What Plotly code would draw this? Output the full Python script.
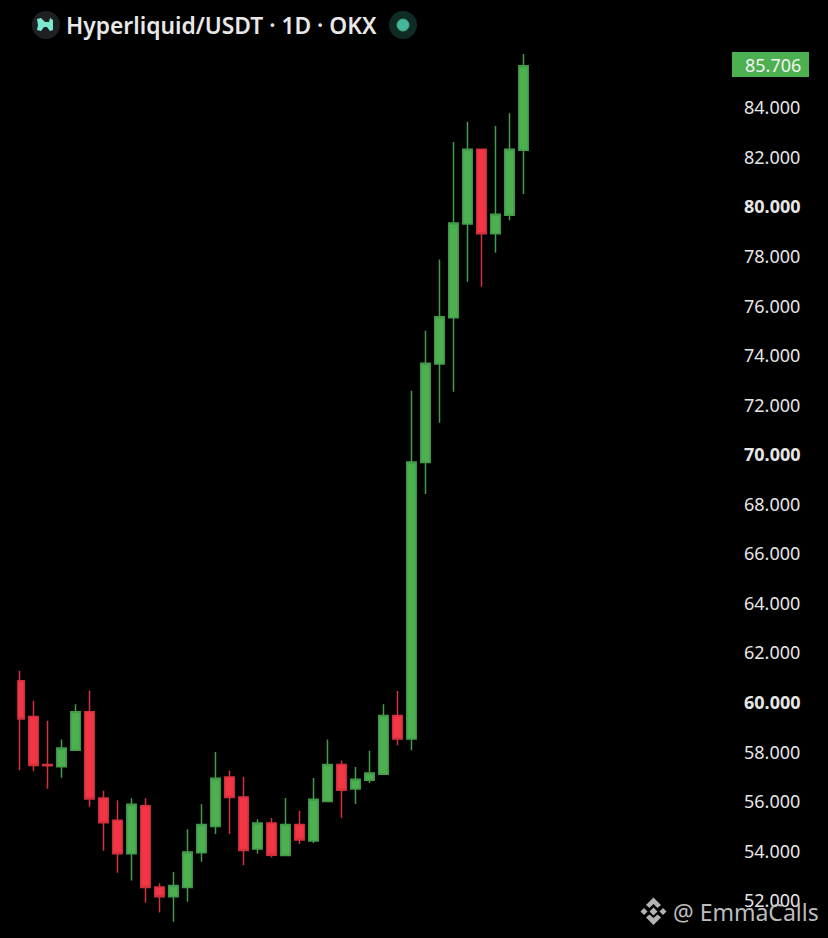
import plotly.graph_objects as go

W, H = 828, 938

day = list(range(37))
open_ = [60.89, 59.44, 57.51, 57.42, 58.08, 59.64, 56.15, 55.26, 53.90, 55.84, 52.56, 52.17, 52.54,
         53.95, 55.00, 57.00, 56.20, 54.10, 55.15, 53.83, 55.09, 54.42, 56.01, 57.51, 56.52, 56.87,
         57.11, 59.48, 58.54, 69.69, 73.67, 75.54, 79.32, 82.33, 78.92, 79.67, 82.29]
high = [61.29, 60.08, 59.27, 58.52, 59.94, 60.49, 56.45, 56.06, 56.14, 56.14, 52.71, 53.17, 54.89,
        55.90, 58.01, 57.26, 57.00, 55.30, 55.35, 56.15, 55.64, 56.96, 58.52, 57.66, 57.41, 58.06,
        59.94, 60.47, 72.59, 75.01, 77.89, 82.63, 83.44, 82.33, 83.27, 83.79, 86.18]
low = [57.27, 57.23, 56.53, 56.97, 58.08, 55.80, 54.03, 53.14, 52.83, 51.93, 51.53, 51.16, 51.97,
       53.58, 54.70, 54.70, 53.44, 53.90, 53.75, 53.83, 54.30, 54.34, 56.01, 55.36, 55.91, 56.76,
       57.11, 58.28, 58.08, 68.42, 71.30, 72.55, 76.99, 76.79, 78.16, 79.47, 80.53]
close = [59.34, 57.47, 57.46, 58.17, 59.64, 56.11, 55.16, 53.90, 55.90, 52.54, 52.17, 52.62, 53.98,
         55.09, 56.95, 56.17, 54.04, 55.15, 53.84, 55.09, 54.46, 56.10, 57.51, 56.47, 56.91, 57.16,
         59.48, 58.54, 69.71, 73.70, 75.58, 79.36, 82.33, 78.92, 79.71, 82.33, 85.706]

tick_vals = [52, 54, 56, 58, 60, 62, 64, 66, 68, 70, 72, 74, 76, 78, 80, 82, 84, 86]
tick_text = ["52.000", "54.000", "56.000", "58.000", "<b>60.000</b>", "62.000", "64.000", "66.000", "68.000",
             "<b>70.000</b>", "72.000", "74.000", "76.000", "78.000", "<b>80.000</b>", "82.000", "84.000", "86.000"]

title_text = "Hyperliquid/USDT · 1D · OKX"
last_price = "85.706"
watermark = "@ EmmaCalls"

GREEN = "#4caf50"
RED = "#f23645"
FONT = "Noto Sans"


def px(x):
    return x / W


def py(y):
    return 1 - y / H


def poly(points, color):
    # small filled shape from picture pixels
    path = "M" + " L".join(f"{px(x):.5f},{py(y):.5f}" for x, y in points) + " Z"
    return dict(type="path", xref="paper", yref="paper", path=path, fillcolor=color, line_width=0)


def circle(cx, cy, r, color, edge=None):
    return dict(type="circle", xref="paper", yref="paper", x0=px(cx - r), x1=px(cx + r), y0=py(cy + r), y1=py(cy - r),
                fillcolor=color, line=dict(width=1 if edge else 0, color=edge or color))


fig = go.Figure()

fig.add_trace(go.Candlestick(
    x=day, open=open_, high=high, low=low, close=close,
    increasing=dict(line=dict(color="#429c49", width=1.5), fillcolor=GREEN),
    decreasing=dict(line=dict(color="#d4303d", width=1.5), fillcolor=RED),
    whiskerwidth=0,
    showlegend=False,
))

# header and watermark decoration
shapes = [
    circle(46, 25, 14, "#1e2124"),
    poly([(37, 19), (41, 18), (45, 22), (49, 22), (50, 18), (53, 20), (53, 30), (50, 31), (47, 27), (44, 27), (41, 31), (37, 30), (38, 25)], "#7de8d0"),
    circle(403, 25, 14, "#0e2b26"),
    circle(403, 25, 6, "#45b5a0", "#3fae6c"),
    dict(type="rect", xref="paper", yref="paper", x0=px(732), x1=px(809), y0=py(77), y1=py(52), fillcolor=GREEN, line_width=0),
    poly([(653.5, 897.5), (661, 905), (657.5, 908), (653.5, 904), (649.5, 908), (646, 905)], "#b4b4b4"),
    poly([(653.5, 925), (646, 917.5), (649.5, 914.5), (653.5, 918), (657.5, 914.5), (661, 917.5)], "#b4b4b4"),
    poly([(644, 908), (647.5, 911.5), (644, 915), (640.5, 911.5)], "#b4b4b4"),
    poly([(663, 908), (666.5, 911.5), (663, 915), (659.5, 911.5)], "#b4b4b4"),
    poly([(653.5, 907.5), (657.5, 911.5), (653.5, 915.5), (649.5, 911.5)], "#b4b4b4"),
]

annotations = [
    dict(text=title_text, x=px(64), y=py(25.5), xanchor="left", yanchor="middle", xref="paper", yref="paper",
         showarrow=False, font=dict(family=FONT, size=22.8, weight=600, color="#e8e8e8")),
    dict(text=last_price, x=px(773), y=py(65), xanchor="center", yanchor="middle", xref="paper", yref="paper",
         showarrow=False, font=dict(family=FONT, size=18, color="#f2f2f2")),
    dict(text=watermark, x=px(671), y=py(912), xanchor="left", yanchor="middle", xref="paper", yref="paper",
         showarrow=False, font=dict(family=FONT, size=23, color="#bdbdbd")),
]

fig.update_layout(
    width=W,
    height=H,
    margin=dict(l=0, r=0, t=0, b=0),
    paper_bgcolor="#000000",
    plot_bgcolor="#000000",
    boxgap=0.33,
    boxgroupgap=0,
    shapes=shapes,
    annotations=annotations,
    xaxis=dict(domain=[px(17.3), px(743)], range=[-0.157, 51.68], visible=False, rangeslider=dict(visible=False),
               showgrid=False, zeroline=False),
    yaxis=dict(domain=[0, 1], range=[50.505, 88.358], side="right", showgrid=False, zeroline=False, showline=False,
               tickmode="array", tickvals=tick_vals, ticktext=tick_text, ticks="",
               tickfont=dict(family=FONT, size=18, color="#e6e6e6")),
)

# page margin off so the figure fills the window
fig.write_html("out.html", config=dict(displayModeBar=False),
               post_script="document.body.style.margin='0';document.body.style.background='#000';")
